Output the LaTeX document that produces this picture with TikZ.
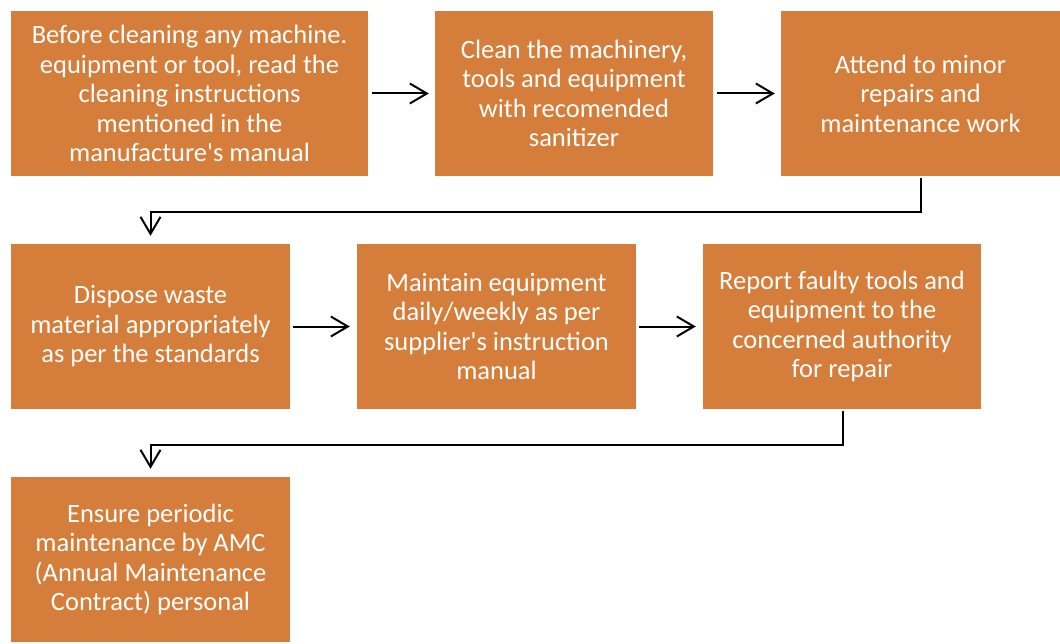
\documentclass[tikz,border=0pt]{standalone}
\usepackage{fontspec}
\setmainfont{Carlito}[Ligatures=TeXOff]
\usetikzlibrary{arrows.meta}
\definecolor{boxorange}{HTML}{D57D3A}
\tikzset{
  stepbox/.style={fill=boxorange, draw=none, text=white, align=center,
    inner sep=0pt, minimum height=165pt,
    font=\fontsize{26.5}{29.5}\selectfont},
  arr/.style={line width=2pt, -{Straight Barb[length=17pt,width=20pt,line width=2pt]}},
}
\begin{document}
\begin{tikzpicture}[x=1pt,y=-1pt]
\useasboundingbox (0,0) rectangle (1060,644);
\node[stepbox, minimum width=357pt] (b1) at (189.5,93.5) {Before cleaning any machine.\\equipment or tool, read the\\cleaning instructions\\mentioned in the\\manufacture's manual};
\node[stepbox, minimum width=278pt] (b2) at (574,93.5) {Clean the machinery,\\tools and equipment\\with recomended\\sanitizer};
\node[stepbox, minimum width=279pt] (b3) at (920.5,93.5) {Attend to minor\\repairs and\\maintenance work};
\node[stepbox, minimum width=279pt] (b4) at (150.5,326.5) {Dispose waste\\material appropriately\\as per the standards};
\node[stepbox, minimum width=279pt] (b5) at (496.5,326.5) {Maintain equipment\\daily/weekly as per\\supplier's instruction\\manual};
\node[stepbox, minimum width=278pt] (b6) at (842,326.5) {Report faulty tools and\\equipment to the\\concerned authority\\for repair};
\node[stepbox, minimum width=279pt] (b7) at (150.5,559.5) {Ensure periodic\\maintenance by AMC\\(Annual Maintenance\\Contract) personal};
\draw[arr] ([xshift=4pt]b1.east) -- ([xshift=-6pt]b2.west);
\draw[arr] ([xshift=4pt]b2.east) -- ([xshift=-6pt]b3.west);
\draw[arr] ([xshift=3pt]b4.east) -- ([xshift=-7pt]b5.west);
\draw[arr] ([xshift=3pt]b5.east) -- ([xshift=-7pt]b6.west);
\draw[arr] ([yshift=-2pt]b3.south) -- ++(0,34) -| ([yshift=8pt]b4.north);
\draw[arr] ([xshift=1pt,yshift=-2pt]b6.south) -- ++(0,34) -| ([yshift=8pt]b7.north);
\end{tikzpicture}
\end{document}
